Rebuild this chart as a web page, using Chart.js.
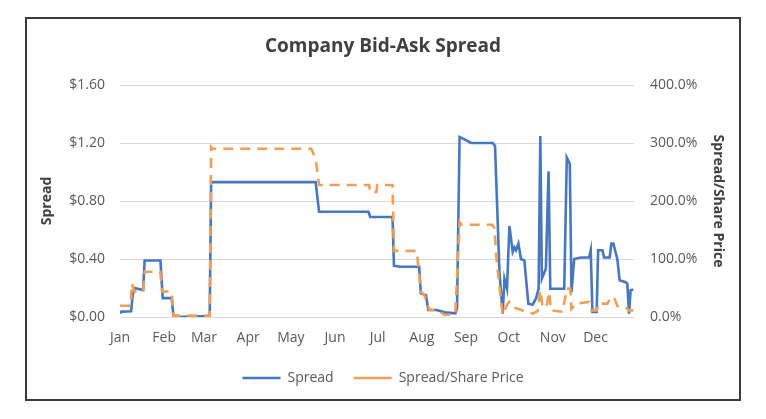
<!DOCTYPE html>
<html>
<head>
<meta charset="utf-8">
<script src="https://cdn.jsdelivr.net/npm/chart.js@4"></script>
<style>
  html, body { margin: 0; padding: 0; background: #fff; }
  canvas { display: block; }
</style>
</head>
<body>
<canvas id="spreadChart" width="766" height="419"></canvas>
<script>
// month ticks (day of year)
const months = ['Jan', 'Feb', 'Mar', 'Apr', 'May', 'Jun', 'Jul', 'Aug', 'Sep', 'Oct', 'Nov', 'Dec'];
const monthStarts = [0, 31, 59, 90, 120, 151, 181, 212, 243, 273, 304, 334];

// Spread ($)
const spreadDays = [0, 1, 7.8, 8.9, 10.2, 16.2, 17.3, 28.4, 30.0, 36.3, 37.6, 63.0, 64.0, 137.4, 139.8,
  174.5, 175.7, 191.4, 192.4, 196.7, 210.1, 211.3, 214.9, 216.5, 222.2, 228.2, 235.5, 236.7, 238.5,
  242, 246.6, 261.8, 263.4, 266.5, 268.8, 270, 271.8, 273.5, 275.8, 277, 278.1, 279.8, 281.6, 284,
  286.8, 289.8, 292.1, 294, 295.2, 296.3, 299.1, 301, 302.2, 312, 313.8, 315.9, 317.1, 319, 323.6,
  329.5, 330.6, 331.8, 334.8, 335.8, 338.8, 340, 343.9, 345.1, 346.5, 349.3, 350.9, 355.1, 356.3,
  357.5, 358.6, 360.5];
const spreadValues = [0.025, 0.037, 0.04, 0.15, 0.20, 0.186, 0.39, 0.39, 0.13, 0.13, 0.0, 0.007, 0.93, 0.93, 0.726,
  0.726, 0.69, 0.69, 0.354, 0.347, 0.347, 0.163, 0.15, 0.048, 0.048, 0.032, 0.025, 0.06, 1.241,
  1.225, 1.20, 1.20, 1.18, 0.31, 0.023, 0.264, 0.195, 0.628, 0.45, 0.48, 0.46, 0.506, 0.40, 0.39,
  0.092, 0.085, 0.126, 0.195, 1.248, 0.264, 0.333, 1.005, 0.195, 0.195, 1.10, 1.057, 0.17, 0.40, 0.41,
  0.41, 0.46, 0.035, 0.035, 0.46, 0.46, 0.41, 0.41, 0.506, 0.506, 0.40, 0.253, 0.24, 0.23,
  0.023, 0.184, 0.19];

// Spread / Share Price (%)
const ratioDays = [0, 7.7, 8.2, 10.2, 16.2, 17.4, 28.3, 29.6, 36.2, 37.6, 63.0, 64.0, 65, 134.3, 137.4,
  139.8, 175.0, 175.7, 180.0, 180.7, 191.4, 192.4, 208.4, 211.3, 213.7, 217.3, 222.2, 228.2, 235.5,
  238.5, 240, 261.5, 263, 264.2, 267.2, 268.8, 272.3, 273.5, 275.8, 281.2, 285.1, 290, 293.3, 295.2,
  296.8, 299.5, 301.5, 302.6, 310.8, 313.8, 316.2, 317.1, 320.1, 329.5, 331.1, 334.8, 335.8, 342.3,
  344.6, 346.9, 349.3, 355.1, 357.5, 360.5];
const ratioValues = [19.5, 19.5, 58, 44, 44, 78, 78, 44, 44, 2.3, 2.3, 293, 290, 290, 273,
  227.6, 227.6, 215, 215, 227.6, 227.6, 114, 114, 44, 38, 12, 12, 3.4, 5,
  164, 159, 159, 153, 106, 37, 4, 23, 26, 17, 13, 8.6, 6, 10, 46,
  17, 17, 43, 11.5, 9, 49, 49, 14, 23, 26, 11.5, 11.5, 23, 23,
  33, 34.5, 19, 17, 11.5, 11.5];

const yTicks = [0, 0.4, 0.8, 1.2, 1.6];

const frame = {
  id: 'frame',
  beforeDraw(chart) {
    const c = chart.ctx;
    c.save();
    c.fillStyle = '#fff';
    c.fillRect(0, 0, chart.width, chart.height);
    c.strokeStyle = '#3a3a3a';
    c.lineWidth = 2;
    c.strokeRect(26, 18, 714, 382);
    c.restore();
  }
};

const tickFont = { family: 'Open Sans', size: 14 };
const titleFont = { family: 'Open Sans', size: 14, weight: 'bold' };

new Chart(document.getElementById('spreadChart'), {
  type: 'line',
  data: {
    datasets: [
      {
        label: 'Spread',
        data: spreadDays.map((d, i) => ({ x: d, y: spreadValues[i] })),
        borderColor: '#4677BF',
        borderWidth: 2.6,
        yAxisID: 'y',
        order: 1
      },
      {
        label: 'Spread/Share Price',
        data: ratioDays.map((d, i) => ({ x: d, y: ratioValues[i] })),
        borderColor: '#EF9F57',
        borderWidth: 2.6,
        borderDash: [10, 7],
        yAxisID: 'y1',
        order: 0
      }
    ]
  },
  options: {
    responsive: false,
    animation: false,
    elements: { point: { radius: 0 }, line: { tension: 0 } },
    layout: { padding: { left: 26, right: 26, top: 18, bottom: 24 } },
    plugins: {
      tooltip: { enabled: false },
      title: {
        display: true,
        text: 'Company Bid-Ask Spread',
        color: '#404040',
        font: { family: 'Open Sans', size: 19, weight: 'bold' },
        padding: { top: 17.6, bottom: 26.6 }
      },
      legend: {
        position: 'bottom',
        labels: {
          usePointStyle: true,
          pointStyle: 'line',
          pointStyleWidth: 38,
          padding: 20,
          color: '#595959',
          font: tickFont,
          sort: (a, b) => a.datasetIndex - b.datasetIndex
        }
      }
    },
    scales: {
      x: {
        type: 'linear',
        min: 0,
        max: 361,
        grid: { display: false, drawTicks: false },
        border: { display: false },
        afterBuildTicks: (scale) => { scale.ticks = monthStarts.map(v => ({ value: v })); },
        afterFit: (scale) => { scale.height = 34; },
        ticks: {
          autoSkip: false,
          maxRotation: 0,
          padding: 13,
          color: '#595959',
          font: tickFont,
          callback: (v) => months[monthStarts.indexOf(v)]
        }
      },
      y: {
        position: 'left',
        min: 0,
        max: 1.6,
        afterBuildTicks: (scale) => { scale.ticks = yTicks.map(v => ({ value: v })); },
        afterFit: (scale) => { scale.width = 94; },
        grid: { color: '#d9d9d9', lineWidth: 1, drawTicks: false },
        border: { display: false },
        ticks: {
          padding: 15,
          color: '#595959',
          font: tickFont,
          callback: (v) => '$' + v.toFixed(2)
        },
        title: { display: true, text: 'Spread', color: '#404040', font: titleFont, padding: { top: 13, bottom: 0 } }
      },
      y1: {
        position: 'right',
        min: 0,
        max: 400,
        afterBuildTicks: (scale) => { scale.ticks = yTicks.map(v => ({ value: v * 250 })); },
        afterFit: (scale) => { scale.width = 106; },
        grid: { drawOnChartArea: false, drawTicks: false },
        border: { display: false },
        ticks: {
          padding: 16,
          color: '#595959',
          font: tickFont,
          callback: (v) => v.toFixed(1) + '%'
        },
        title: { display: true, text: 'Spread/Share Price', color: '#404040', font: titleFont, padding: { top: 14, bottom: 0 } }
      }
    }
  },
  plugins: [frame]
});
</script>
</body>
</html>
